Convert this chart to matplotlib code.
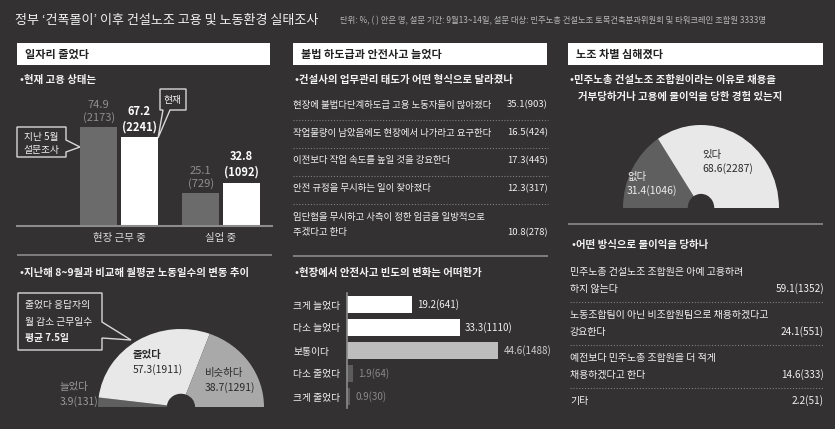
import numpy as np
import matplotlib.pyplot as plt
from matplotlib.patches import Rectangle, Polygon

plt.rcParams['font.family'] = ['Noto Sans CJK KR', 'DejaVu Sans']

W, H = 835, 429
BG = '#333132'
LIGHT = '#e8e8e8'
MID = '#a9a9a9'
DARK = '#5f5f5f'
RULE = '#8c8c8c'
TXT = '#f2f2f2'

# ---- data
title = "정부 ‘건폭몰이’ 이후 건설노조 고용 및 노동환경 실태조사"
subtitle = ("단위: %, ( ) 안은 명, 설문 기간: 9월13~14일, 설문 대상: "
            "민주노총 건설노조 토목건축분과위원회 및 타워크레인 조합원 3333명")

emp_cats = ['현장 근무 중', '실업 중']
emp_may = [74.9, 25.1]
emp_may_n = [2173, 729]
emp_now = [67.2, 32.8]
emp_now_n = [2241, 1092]

days_labels = ['늘었다', '줄었다', '비슷하다']
days_pct = [3.9, 57.3, 38.7]
days_n = [131, 1911, 1291]

mgmt_items = ['현장에 불법다단계하도급 고용 노동자들이 많아졌다',
              '작업물량이 남았음에도 현장에서 나가라고 요구한다',
              '이전보다 작업 속도를 높일 것을 강요한다',
              '안전 규정을 무시하는 일이 잦아졌다',
              '임단협을 무시하고 사측이 정한 임금을 일방적으로\n주겠다고 한다']
mgmt_pct = [35.1, 16.5, 17.3, 12.3, 10.8]
mgmt_n = [903, 424, 445, 317, 278]

acc_labels = ['크게 늘었다', '다소 늘었다', '보통이다', '다소 줄었다', '크게 줄었다']
acc_pct = [19.2, 33.3, 44.6, 1.9, 0.9]
acc_n = [641, 1110, 1488, 64, 30]

disc_labels = ['없다', '있다']
disc_pct = [31.4, 68.6]
disc_n = [1046, 2287]

way_items = ['민주노총 건설노조 조합원은 아예 고용하려\n하지 않는다',
             '노동조합팀이 아닌 비조합원팀으로 채용하겠다고\n강요한다',
             '예전보다 민주노총 조합원을 더 적게\n채용하겠다고 한다',
             '기타']
way_pct = [59.1, 24.1, 14.6, 2.2]
way_n = [1352, 551, 333, 51]


def rect(x0, y0, x1, y1):
    return [x0 / W, 1 - y1 / H, (x1 - x0) / W, (y1 - y0) / H]


fig = plt.figure(figsize=(W / 100, H / 100), dpi=100, facecolor=BG)
bg = fig.add_axes([0, 0, 1, 1])
bg.set_xlim(0, W)
bg.set_ylim(H, 0)
bg.axis('off')

# title
bg.text(15, 20, title, color=TXT, fontsize=9.4, va='center')
bg.text(340, 21, subtitle, color='#b8b8b8', fontsize=6.0, va='center')


def header(x0, x1, s):
    bg.add_patch(Rectangle((x0, 43), x1 - x0, 22, facecolor='white', edgecolor='none'))
    bg.text(x0 + 8, 54, s, color='#222222', fontsize=8, fontweight='bold', va='center')


def rule(x0, x1, y):
    bg.plot([x0, x1], [y, y], color=RULE, lw=1.2, solid_capstyle='butt')


def dots(x0, x1, y):
    bg.plot([x0, x1], [y, y], color='#808080', lw=0.8, ls=(0, (1, 1.6)))


def bullet(x, y, s):
    bg.text(x, y, '•' + s, color=TXT, fontsize=7.5, fontweight='bold', va='center')


header(17, 270, '일자리 줄었다')
header(293, 547, '불법 하도급과 안전사고 늘었다')
header(568, 823, '노조 차별 심해졌다')

# ---------------- panel 1: employment bars
bullet(20, 80, '현재 고용 상태는')
ax1 = fig.add_axes(rect(17, 85, 272, 226))
ax1.set_facecolor('none')
x = np.arange(len(emp_cats))
w, off = 0.363, 0.2
ax1.bar(x - off, emp_may, w, color='#6b6b6b')
ax1.bar(x + off, emp_now, w, color='white')
ax1.set_xlim(-1, 1.5)
ax1.set_ylim(0, 141 / 1.32)
for s in ['top', 'left', 'right']:
    ax1.spines[s].set_visible(False)
ax1.spines['bottom'].set_color(RULE)
ax1.spines['bottom'].set_linewidth(1.5)
ax1.set_yticks([])
ax1.set_xticks(x)
ax1.set_xticklabels(emp_cats, color='#dddddd', fontsize=7.5)
ax1.tick_params(axis='x', length=0, pad=5)
for xi, v, n in zip(x, emp_may, emp_may_n):
    ax1.annotate(f'{v}\n({n})', (xi - off, v), xytext=(0, 3), textcoords='offset points',
                 ha='center', va='bottom', color='#8f8f8f', fontsize=8, linespacing=1.25)
for xi, v, n in zip(x, emp_now, emp_now_n):
    ax1.annotate(f'{v}\n({n})', (xi + off, v), xytext=(0, 3), textcoords='offset points',
                 ha='center', va='bottom', color='white', fontsize=8, fontweight='bold',
                 linespacing=1.25)

bubble_kw = dict(closed=True, facecolor=BG, edgecolor='#d8d8d8', lw=1)
bg.add_patch(Polygon([(17, 127), (66, 127), (66, 140), (80, 147), (66, 152), (66, 157), (17, 157)],
                     **bubble_kw))
bg.text(41.5, 137, '지난 5월', color=TXT, fontsize=7, ha='center', va='center')
bg.text(41.5, 150, '설문조사', color=TXT, fontsize=7, ha='center', va='center')
bg.add_patch(Polygon([(160, 89), (186, 89), (186, 110), (170, 110), (158, 138), (163, 110), (160, 110)],
                     **bubble_kw))
bg.text(173, 99.5, '현재', color=TXT, fontsize=7, ha='center', va='center')

rule(17, 272, 255)

# ---------------- panel 1: working days half pie
bullet(20, 273, '지난해 8~9월과 비교해 월평균 노동일수의 변동 추이')
bg.add_patch(Polygon([(18, 293), (102, 293), (102, 322), (131, 340), (102, 338), (102, 350), (18, 350)],
                     **bubble_kw))
bg.text(25, 305, '줄었다 응답자의', color=TXT, fontsize=7, va='center')
bg.text(25, 322, '월 감소 근무일수', color=TXT, fontsize=7, va='center')
bg.text(25, 338, '평균 7.5일', color=TXT, fontsize=7, fontweight='bold', va='center')

axp1 = fig.add_axes(rect(98, 329, 264, 407))
axp1.pie(days_pct + [sum(days_pct)], startangle=180, counterclock=False,
         colors=[DARK, LIGHT, MID, 'none'], wedgeprops=dict(width=0.83, linewidth=0))
axp1.set_aspect('auto')
axp1.set_xlim(-1, 1)
axp1.set_ylim(0, 1)
axp1.axis('off')
lab_pos = [(60, 387, '#9a9a9a', 'normal'), (133, 355, '#2a2a2a', 'bold'), (205, 373, '#2a2a2a', 'normal')]
for (lx, ly, c, fw), lab, p, n in zip(lab_pos, days_labels, days_pct, days_n):
    axp1.text(lx, ly, lab, transform=bg.transData, color=c, fontsize=7.5, fontweight=fw, va='center')
    axp1.text(lx, ly + 15, f'{p}({n})', transform=bg.transData, color=c, fontsize=7.5, va='center')

# ---------------- panel 2: list
bullet(295, 80, '건설사의 업무관리 태도가 어떤 형식으로 달라졌나')
for i, (item, p, n) in enumerate(zip(mgmt_items, mgmt_pct, mgmt_n)):
    y0 = 105 + 28 * i
    lines = item.split('\n')
    for k, ln in enumerate(lines):
        bg.text(293, y0 + 16 * k, ln, color=TXT, fontsize=6.8, va='center')
    bg.text(548, y0 + 16 * (len(lines) - 1), f'{p}({n})', color=TXT, fontsize=6.8,
            ha='right', va='center')
    if i < len(mgmt_items) - 1:
        dots(293, 548, y0 + 15)

rule(293, 548, 256)

# ---------------- panel 2: accident bars
bullet(295, 273, '현장에서 안전사고 빈도의 변화는 어떠한가')
ax2 = fig.add_axes(rect(347, 293, 540, 408))
ax2.set_facecolor('none')
yy = np.arange(len(acc_labels))
bar_cols = ['white', 'white', '#bdbdbd', '#5c5c5c', '#5c5c5c']
val_cols = ['#f0f0f0', '#f0f0f0', '#cfcfcf', '#8a8a8a', '#8a8a8a']
ax2.barh(yy, acc_pct, height=0.74, color=bar_cols)
ax2.set_xlim(0, 193 / 3.39)
ax2.set_ylim(len(acc_labels) - 0.5, -0.5)
for s in ['top', 'bottom', 'right']:
    ax2.spines[s].set_visible(False)
ax2.spines['left'].set_color(RULE)
ax2.spines['left'].set_linewidth(1.2)
ax2.set_xticks([])
ax2.set_yticks(yy)
ax2.set_yticklabels(acc_labels, color=TXT, fontsize=7, ha='left')
ax2.tick_params(axis='y', length=0, pad=(347 - 293) / 1.389)
for yi, v, n, c in zip(yy, acc_pct, acc_n, val_cols):
    ax2.text(v + 1.5, yi, f'{v}({n})', color=c, fontsize=7, va='center')

# ---------------- panel 3: discrimination half pie
bullet(570, 80, '민주노총 건설노조 조합원이라는 이유로 채용을')
bg.text(578, 97, '거부당하거나 고용에 불이익을 당한 경험 있는지', color=TXT, fontsize=7.5,
        fontweight='bold', va='center')
axp3 = fig.add_axes(rect(623, 125, 779, 208))
axp3.pie(disc_pct + [sum(disc_pct)], startangle=180, counterclock=False,
         colors=[DARK, LIGHT, 'none'], wedgeprops=dict(width=0.83, linewidth=0))
axp3.set_aspect('auto')
axp3.set_xlim(-1, 1)
axp3.set_ylim(0, 1)
axp3.axis('off')
lab_pos3 = [(627, 177, '#eeeeee'), (702, 155, '#2a2a2a')]
for (lx, ly, c), lab, p, n in zip(lab_pos3, disc_labels, disc_pct, disc_n):
    axp3.text(lx, ly, lab, transform=bg.transData, color=c, fontsize=7.5, va='center')
    axp3.text(lx, ly + 14, f'{p}({n})', transform=bg.transData, color=c, fontsize=7.5, va='center')

rule(568, 823, 224)

# ---------------- panel 3: list
bullet(572, 245, '어떤 방식으로 불이익을 당하나')
for i, (item, p, n) in enumerate(zip(way_items, way_pct, way_n)):
    y0 = 272 + 43 * i
    lines = item.split('\n')
    for k, ln in enumerate(lines):
        bg.text(570, y0 + 16.5 * k, ln, color=TXT, fontsize=7.2, va='center')
    bg.text(824, y0 + 16.5 * (len(lines) - 1), f'{p}({n})', color=TXT, fontsize=7.2,
            ha='right', va='center')
    if i < len(way_items) - 1:
        dots(570, 824, y0 + 30)

fig.savefig('out.png', dpi=100, facecolor=BG)
